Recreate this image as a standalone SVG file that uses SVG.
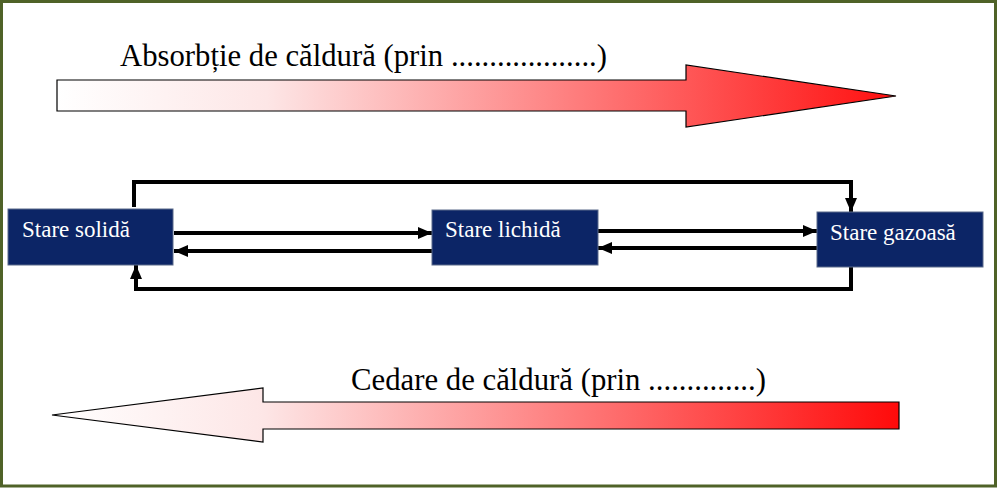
<svg xmlns="http://www.w3.org/2000/svg" width="1000" height="489" viewBox="0 0 1000 489">
<style>
.lbl{font-family:"Liberation Serif","Times New Roman",serif;font-size:31px;fill:#000}
.box{fill:#0c2566;stroke:#5a6a8a;stroke-width:1}
.bt{font-family:"Liberation Serif","Times New Roman",serif;font-size:23px;fill:#fff}
.con{fill:none;stroke:#000;stroke-width:4}
.big{stroke:#000;stroke-width:1.2}
</style>
<defs>
<linearGradient id="gTop" gradientUnits="userSpaceOnUse" x1="57" y1="0" x2="896" y2="0">
<stop offset="0" stop-color="#ffffff"/>
<stop offset="0.25" stop-color="#fde6e6"/>
<stop offset="1" stop-color="#ff1010"/>
</linearGradient>
<linearGradient id="gBot" gradientUnits="userSpaceOnUse" x1="52" y1="0" x2="899" y2="0">
<stop offset="0" stop-color="#ffffff"/>
<stop offset="0.25" stop-color="#fde6e6"/>
<stop offset="1" stop-color="#ff0a0a"/>
</linearGradient>
<marker id="ah" viewBox="0 0 14 12" refX="14" refY="6" markerWidth="14" markerHeight="12" markerUnits="userSpaceOnUse" orient="auto">
<path d="M0,0 L14,6 L0,12 z" fill="#000"/>
</marker>
</defs>
<rect x="1.5" y="1.5" width="994" height="484.5" fill="#fff" stroke="#4f6228" stroke-width="3"/>
<g id="heat-absorb">
<polygon class="big" fill="url(#gTop)" points="57,80 686,80 686,65 896,96 686,127 686,111 57,111"/>
<text class="lbl" x="120" y="66" textLength="487" lengthAdjust="spacingAndGlyphs">Absorbție de căldură (prin ...................)</text>
</g>
<g id="heat-release">
<polygon class="big" fill="url(#gBot)" points="899,402 263,402 263,388 52,415 263,442 263,429 899,429"/>
<text class="lbl" x="351" y="390" textLength="415" lengthAdjust="spacingAndGlyphs">Cedare de căldură (prin ..............)</text>
</g>
<g id="connectors">
<polyline class="con" points="134,207 134,182 851,182 851,212" marker-end="url(#ah)"/>
<polyline class="con" points="851,267 851,289 136,289 136,265" marker-end="url(#ah)"/>
<line class="con" x1="174" y1="233" x2="432" y2="233" marker-end="url(#ah)"/>
<line class="con" x1="432" y1="251" x2="174" y2="251" marker-end="url(#ah)"/>
<line class="con" x1="598" y1="231" x2="817" y2="231" marker-end="url(#ah)"/>
<line class="con" x1="817" y1="248" x2="598" y2="248" marker-end="url(#ah)"/>
</g>
<g id="solid">
<rect class="box" x="8" y="209" width="165" height="56"/>
<text class="bt" x="22" y="237">Stare solidă</text>
</g>
<g id="liquid">
<rect class="box" x="432" y="210" width="166" height="55"/>
<text class="bt" x="445" y="237">Stare lichidă</text>
</g>
<g id="gas">
<rect class="box" x="817" y="212" width="166" height="55"/>
<text class="bt" x="830" y="240">Stare gazoasă</text>
</g>
</svg>
